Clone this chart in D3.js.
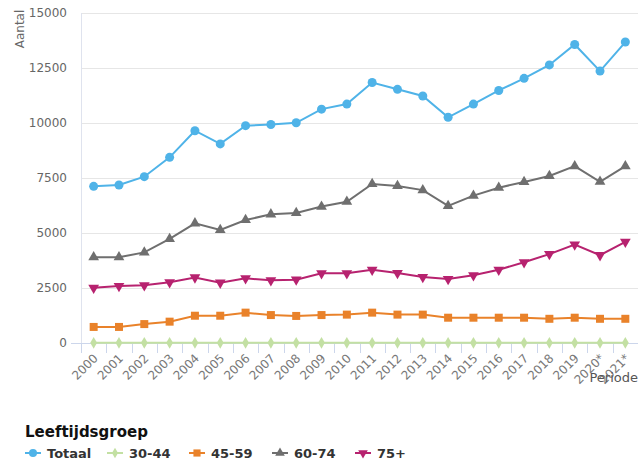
<!DOCTYPE html>
<html>
<head>
<meta charset="utf-8">
<script src="https://cdn.jsdelivr.net/npm/d3@7"></script>
<style>
  body { margin: 0; background: #fff; }
  svg { font-family: "DejaVu Sans", sans-serif; }
</style>
</head>
<body>
<svg width="638" height="461"></svg>
<script>
// Data
var years = ["2000", "2001", "2002", "2003", "2004", "2005", "2006", "2007", "2008", "2009", "2010",
    "2011", "2012", "2013", "2014", "2015", "2016", "2017", "2018", "2019", "2020*", "2021*"];
var totaal = [7120, 7180, 7560, 8440, 9650, 9050, 9880, 9930, 10010, 10630, 10860,
    11840, 11530, 11230, 10260, 10860, 11480, 12030, 12640, 13570, 12360, 13680];
var g30_44 = [10, 10, 10, 10, 10, 10, 10, 10, 10, 10, 10,
    10, 10, 10, 10, 10, 10, 10, 10, 10, 10, 10];
var g45_59 = [730, 730, 860, 970, 1240, 1240, 1380, 1270, 1230, 1270, 1290,
    1380, 1290, 1290, 1150, 1150, 1150, 1150, 1100, 1150, 1100, 1100];
var g60_74 = [3900, 3900, 4120, 4730, 5440, 5140, 5590, 5850, 5910, 6200, 6420,
    7230, 7140, 6950, 6230, 6700, 7060, 7320, 7590, 8040, 7330, 8040];
var g75 = [2510, 2590, 2620, 2760, 2980, 2740, 2940, 2850, 2880, 3170, 3170,
    3330, 3180, 3000, 2910, 3080, 3330, 3670, 4040, 4470, 3990, 4600];
var yTicks = [0, 2500, 5000, 7500, 10000, 12500, 15000];

var series = [
    { name: "Totaal", values: totaal, color: "#4fb3e8", symbol: d3.symbolCircle, size: 64 },
    { name: "30-44", values: g30_44, color: "#c3e0a3", symbol: d3.symbolDiamond, size: 40 },
    { name: "45-59", values: g45_59, color: "#e9822a", symbol: d3.symbolSquare, size: 64 },
    { name: "60-74", values: g60_74, color: "#6f6f6f", symbol: d3.symbolTriangle, size: 50 },
    { name: "75+", values: g75, color: "#b7226f", symbol: d3.symbolTriangle, size: 50, flip: true }
];

var svg = d3.select("svg");
var plotL = 81, plotR = 638, plotT = 13, plotB = 343;

var x = d3.scaleBand().domain(years).range([plotL, plotR]);
var y = d3.scaleLinear().domain([0, 15000]).range([plotB, plotT]);

// gridlines
svg.append("g")
    .selectAll("line")
    .data(yTicks)
    .enter()
    .append("line")
    .attr("x1", plotL).attr("x2", plotR)
    .attr("y1", function (d) { return Math.round(y(d)) + 0.5; })
    .attr("y2", function (d) { return Math.round(y(d)) + 0.5; })
    .attr("stroke", "#e6e6e6");

// y axis line
svg.append("line")
    .attr("x1", plotL + 0.5).attr("x2", plotL + 0.5)
    .attr("y1", plotT).attr("y2", plotB)
    .attr("stroke", "#dfe3ee");

// y tick labels
svg.append("g")
    .selectAll("text")
    .data(yTicks)
    .enter()
    .append("text")
    .attr("x", 67)
    .attr("y", function (d) { return y(d) + 4; })
    .attr("text-anchor", "end")
    .attr("font-size", 12)
    .attr("fill", "#666")
    .text(function (d) { return d; });

svg.append("text")
    .attr("transform", "translate(24,29) rotate(-90)")
    .attr("text-anchor", "middle")
    .attr("font-size", 12)
    .attr("fill", "#666")
    .text("Aantal");

// x axis
var xAxis = svg.append("g")
    .attr("transform", "translate(0," + plotB + ")");
xAxis.append("line")
    .attr("x1", 71).attr("x2", plotR)
    .attr("y1", 0.5).attr("y2", 0.5)
    .attr("stroke", "#ccd6eb");
xAxis.selectAll(".tick")
    .data(years)
    .enter()
    .append("line")
    .attr("x1", function (d) { return Math.round(x(d)) + 0.5; })
    .attr("x2", function (d) { return Math.round(x(d)) + 0.5; })
    .attr("y1", 0).attr("y2", 10)
    .attr("stroke", "#ccd6eb");
xAxis.selectAll("text")
    .data(years)
    .enter()
    .append("text")
    .attr("transform", function (d) {
        return "translate(" + (x(d) + x.bandwidth() / 2 + 5) + ",16) rotate(-45)";
    })
    .attr("text-anchor", "end")
    .attr("font-size", 12)
    .attr("fill", "#777")
    .text(function (d) { return d; });

svg.append("text")
    .attr("x", 638)
    .attr("y", 382)
    .attr("text-anchor", "end")
    .attr("font-size", 13)
    .attr("fill", "#555")
    .text("Periode");

// lines
var line = d3.line()
    .x(function (d, i) { return x(years[i]) + x.bandwidth() / 2; })
    .y(function (d) { return y(d); });

var order = [1, 2, 4, 3, 0];
order.forEach(function (k) {
    var s = series[k];
    var g = svg.append("g");
    g.append("path")
        .attr("d", line(s.values))
        .attr("fill", "none")
        .attr("stroke", s.color)
        .attr("stroke-width", 2);
    g.selectAll("path.m")
        .data(s.values)
        .enter()
        .append("path")
        .attr("class", "m")
        .attr("d", d3.symbol().type(s.symbol).size(s.size))
        .attr("transform", function (d, i) {
            return "translate(" + (x(years[i]) + x.bandwidth() / 2) + "," + y(d) + ")" + (s.flip ? " rotate(180)" : "");
        })
        .attr("fill", s.color);
});

// legend
svg.append("text")
    .attr("x", 25)
    .attr("y", 437)
    .attr("font-size", 15)
    .attr("font-weight", "bold")
    .attr("fill", "#111")
    .text("Leeftijdsgroep");

var legendX = [25, 107, 189, 272, 355];
var lg = svg.append("g")
    .selectAll("g")
    .data(series)
    .enter()
    .append("g")
    .attr("transform", function (d, i) { return "translate(" + legendX[i] + ",453)"; });
lg.append("line")
    .attr("x1", 0).attr("x2", 16)
    .attr("stroke", function (d) { return d.color; })
    .attr("stroke-width", 2);
lg.append("path")
    .attr("d", function (d) { return d3.symbol().type(d.symbol).size(d.size * 0.8)(); })
    .attr("transform", function (d) { return "translate(8,0)" + (d.flip ? " rotate(180)" : ""); })
    .attr("fill", function (d) { return d.color; });
lg.append("text")
    .attr("x", 22)
    .attr("y", 5)
    .attr("font-size", 13)
    .attr("font-weight", "bold")
    .attr("fill", "#333")
    .text(function (d) { return d.name; });
</script>
</body>
</html>
